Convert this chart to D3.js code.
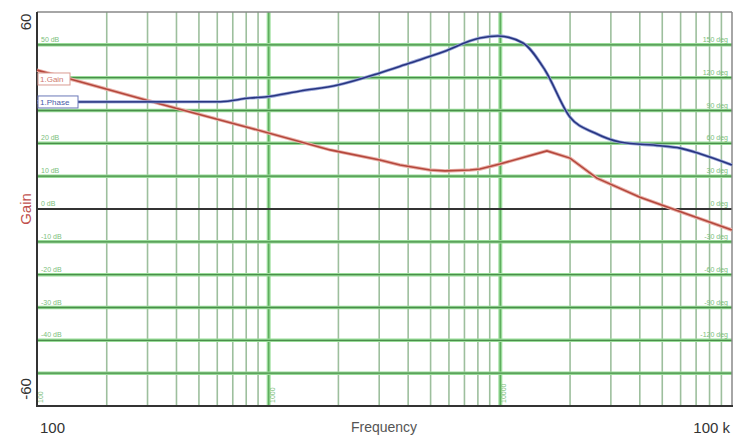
<!DOCTYPE html>
<html><head><meta charset="utf-8">
<script src="https://cdn.jsdelivr.net/npm/d3@7"></script>
<style>body{margin:0;background:#fff}svg{display:block}</style>
</head><body>
<svg id="c" width="734" height="436"></svg>
<script>
// ---- data ----
const gainFreq = [100, 139, 340, 830, 1840, 3020, 3690, 4970, 5770, 7390, 8170, 9960, 15890, 19970, 26120, 40040, 63000, 99900];
const gainDb   = [42.3, 39.6, 32.0, 24.7, 18.0, 14.9, 13.4, 11.9, 11.6, 11.9, 12.2, 13.7, 17.7, 15.5, 9.4, 3.6, -1.4, -6.4];
const phaseFreq = [100, 620, 830, 960, 1370, 1990, 3020, 4070, 5490, 8170, 9760, 12520, 15580, 19970, 25610, 32830, 48860, 59590, 72690, 100000];
const phaseDeg  = [97.8, 98.0, 101.4, 102.3, 107.8, 113.3, 124.3, 133.4, 142.5, 156.2, 158.1, 151.7, 127.0, 84.1, 69.4, 61.2, 57.8, 55.6, 50.5, 40.2];
const gainGrid = [50, 40, 30, 20, 10, -10, -20, -30, -40, -50];
const gainGridLabels = ["50 dB", "", "", "20 dB", "10 dB", "-10 dB", "-20 dB", "-30 dB", "-40 dB", ""];
const phaseGridLabels = ["150 deg", "120 deg", "90 deg", "60 deg", "30 deg", "-30 deg", "-60 deg", "-90 deg", "-120 deg", ""];
const decades = [100, 1000, 10000];
const decadeLabels = ["100", "1000", "10000"];

// ---- layout ----
const L = 37, R = 732, T = 12, B = 406;
const svg = d3.select("#c");
const x = d3.scaleLog().domain([100, 100000]).range([L, R]);
const yG = d3.scaleLinear().domain([-60, 60]).range([B, T]);
const yP = d3.scaleLinear().domain([-180, 180]).range([B, T]);
const font = "'Liberation Sans', Arial, sans-serif";

// vertical minor grid
const minors = [];
decades.forEach(d => { for (let k = 2; k <= 9; k++) minors.push(d * k); });
svg.append("g").selectAll("line").data(minors).join("line")
  .attr("x1", d => x(d)).attr("x2", d => x(d)).attr("y1", T).attr("y2", B)
  .attr("stroke", "#9dbf9d").attr("stroke-width", 1.6);
// decade lines
const dec = svg.append("g").selectAll("g").data(decades.slice(1)).join("g");
dec.append("line").attr("x1", d => x(d)).attr("x2", d => x(d)).attr("y1", T).attr("y2", B)
  .attr("stroke", "#9fe09f").attr("stroke-width", 4);
dec.append("line").attr("x1", d => x(d)).attr("x2", d => x(d)).attr("y1", T).attr("y2", B)
  .attr("stroke", "#5fae5f").attr("stroke-width", 1.5);

// horizontal grid
const hg = svg.append("g").selectAll("g").data(gainGrid).join("g");
hg.append("line").attr("x1", L).attr("x2", R).attr("y1", d => yG(d)).attr("y2", d => yG(d))
  .attr("stroke", "#98dc98").attr("stroke-width", 3.5);
hg.append("line").attr("x1", L).attr("x2", R).attr("y1", d => yG(d)).attr("y2", d => yG(d))
  .attr("stroke", "#4a8f4a").attr("stroke-width", 1.3);

// grid labels
svg.append("g").selectAll("text").data(gainGrid).join("text")
  .attr("x", L + 4).attr("y", d => yG(d) - 3)
  .attr("font-family", font).attr("font-size", 7).attr("fill", "#7cc07c")
  .text((d, i) => gainGridLabels[i]);
svg.append("g").selectAll("text").data(gainGrid).join("text")
  .attr("x", R - 4).attr("y", d => yG(d) - 3).attr("text-anchor", "end")
  .attr("font-family", font).attr("font-size", 7).attr("fill", "#7cc07c")
  .text((d, i) => phaseGridLabels[i]);
svg.append("text").attr("x", R - 4).attr("y", yG(0) - 3).attr("text-anchor", "end")
  .attr("font-family", font).attr("font-size", 7).attr("fill", "#7cc07c").text("0 deg");
svg.append("text").attr("x", L + 4).attr("y", yG(0) - 3)
  .attr("font-family", font).attr("font-size", 7).attr("fill", "#7cc07c").text("0 dB");
// decade labels at bottom (rotated)
svg.append("g").selectAll("text").data(decades).join("text")
  .attr("transform", d => `translate(${x(d) + 6},${B - 3}) rotate(-90)`)
  .attr("font-family", font).attr("font-size", 7).attr("fill", "#7cc07c")
  .text((d, i) => decadeLabels[i]);

// zero line
svg.append("line").attr("x1", L).attr("x2", R).attr("y1", yG(0)).attr("y2", yG(0))
  .attr("stroke", "#333").attr("stroke-width", 2.2);

// frame
svg.append("line").attr("x1", L).attr("x2", R).attr("y1", T).attr("y2", T).attr("stroke", "#888").attr("stroke-width", 1.5);
svg.append("line").attr("x1", R).attr("x2", R).attr("y1", T).attr("y2", B).attr("stroke", "#888").attr("stroke-width", 1.5);
svg.append("line").attr("x1", L).attr("x2", L).attr("y1", T).attr("y2", B + 1).attr("stroke", "#333").attr("stroke-width", 2);
svg.append("line").attr("x1", L - 1).attr("x2", R + 1).attr("y1", B).attr("y2", B).attr("stroke", "#333").attr("stroke-width", 2);

// curves
const gainData = gainFreq.map((f, i) => [f, gainDb[i]]);
const phaseData = phaseFreq.map((f, i) => [f, phaseDeg[i]]);
const gLine = d3.line().x(d => x(d[0])).y(d => yG(d[1])).curve(d3.curveLinear);
const pLine = d3.line().x(d => x(d[0])).y(d => yP(d[1])).curve(d3.curveMonotoneX);
svg.append("path").attr("d", gLine(gainData)).attr("fill", "none").attr("stroke", "#e9b0a8").attr("stroke-width", 3.5);
svg.append("path").attr("d", gLine(gainData)).attr("fill", "none").attr("stroke", "#b4473c").attr("stroke-width", 1.6);
svg.append("path").attr("d", pLine(phaseData)).attr("fill", "none").attr("stroke", "#9aa6d8").attr("stroke-width", 3.2);
svg.append("path").attr("d", pLine(phaseData)).attr("fill", "none").attr("stroke", "#283580").attr("stroke-width", 1.6);

// trace labels
function tag(txt, yv, w, col, fill) {
  svg.append("rect").attr("x", L + 1).attr("y", yv - 6).attr("width", w).attr("height", 12)
    .attr("fill", "#fff").attr("stroke", col).attr("stroke-width", 1);
  svg.append("text").attr("x", L + 3).attr("y", yv + 3).attr("font-family", font).attr("font-size", 8)
    .attr("fill", fill).text(txt);
}
tag("1.Gain", yG(gainDb[1]), 32, "#d99b92", "#d07a70");
tag("1.Phase", yP(phaseDeg[0]), 40, "#6a78b8", "#4a5aa8");

// axis texts
svg.append("text").attr("transform", `translate(31,22) rotate(-90)`).attr("text-anchor", "middle")
  .attr("font-family", font).attr("font-size", 15).attr("fill", "#333").text("60");
svg.append("text").attr("transform", `translate(31,${yG(0)}) rotate(-90)`).attr("text-anchor", "middle")
  .attr("font-family", font).attr("font-size", 15).attr("fill", "#c0504d").text("Gain");
svg.append("text").attr("transform", `translate(31,389) rotate(-90)`).attr("text-anchor", "middle")
  .attr("font-family", font).attr("font-size", 15).attr("fill", "#333").text("-60");
svg.append("text").attr("x", 40).attr("y", 433).attr("font-family", font).attr("font-size", 15).attr("fill", "#333").text("100");
svg.append("text").attr("x", 384).attr("y", 432).attr("text-anchor", "middle").attr("font-family", font).attr("font-size", 14).attr("fill", "#555").text("Frequency");
svg.append("text").attr("x", 730).attr("y", 433).attr("text-anchor", "end").attr("font-family", font).attr("font-size", 15).attr("fill", "#333").text("100 k");
</script>
</body></html>
